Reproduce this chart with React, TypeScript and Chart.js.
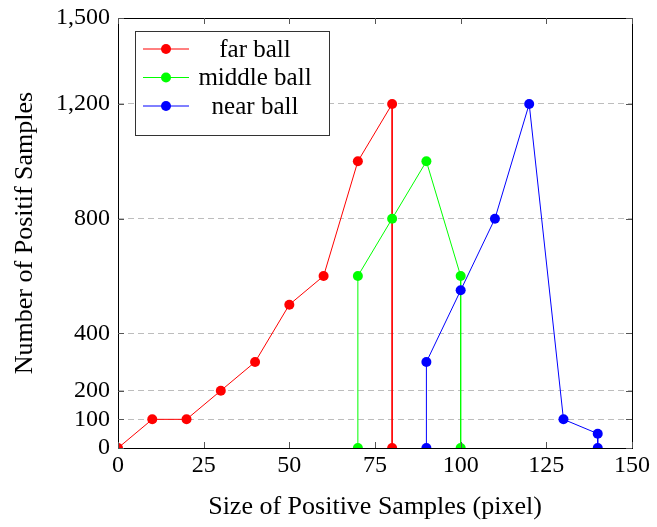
import React, { useEffect, useRef } from "react";
import { Chart, registerables } from "chart.js";

Chart.register(...registerables);

const farX = [0, 10, 20, 30, 40, 50, 60, 70, 80, 80];
const farY = [0, 100, 100, 200, 300, 500, 600, 1000, 1200, 0];
const middleX = [70, 70, 80, 90, 100, 100];
const middleY = [0, 600, 800, 1000, 600, 0];
const nearX = [90, 90, 100, 110, 120, 130, 140, 140];
const nearY = [0, 300, 550, 800, 1200, 100, 50, 0];
const yTicks = [0, 100, 200, 400, 800, 1200, 1500];
const xTicks = [0, 25, 50, 75, 100, 125, 150];
const seriesNames = ["far ball", "middle ball", "near ball"];
const seriesColors = ["#ff0000", "#00ff00", "#0000ff"];

const FONT = "'Liberation Serif', serif";

const pts = (xs: number[], ys: number[]) => xs.map((x, i) => ({ x, y: ys[i] }));

const framePlugin = {
  id: "frame",
  afterDraw(chart: any) {
    const { ctx, chartArea: a, scales } = chart;
    const xs = scales.x;
    const ys = scales.y;
    ctx.save();
    ctx.strokeStyle = "#000";
    ctx.lineWidth = 1;
    ctx.strokeRect(Math.round(a.left) + 0.5, Math.round(a.top) + 0.5, Math.round(a.right - a.left), Math.round(a.bottom - a.top));
    ctx.strokeStyle = "#555";
    ctx.beginPath();
    const tl = 6;
    xTicks.forEach((v) => {
      const px = Math.round(xs.getPixelForValue(v)) + 0.5;
      ctx.moveTo(px, a.bottom);
      ctx.lineTo(px, a.bottom - tl);
      ctx.moveTo(px, a.top);
      ctx.lineTo(px, a.top + tl);
    });
    yTicks.forEach((v) => {
      const py = Math.round(ys.getPixelForValue(v)) + 0.5;
      ctx.moveTo(a.left, py);
      ctx.lineTo(a.left + tl, py);
      ctx.moveTo(a.right, py);
      ctx.lineTo(a.right - tl, py);
    });
    ctx.stroke();

    // legend
    const bx = a.left + 17, by = a.top + 13, bw = 194, bh = 104;
    ctx.fillStyle = "#fff";
    ctx.fillRect(bx, by, bw, bh);
    ctx.strokeStyle = "#333";
    ctx.strokeRect(bx + 0.5, by + 0.5, bw, bh);
    ctx.font = "25px " + FONT;
    ctx.textAlign = "center";
    ctx.textBaseline = "middle";
    seriesNames.forEach((n, i) => {
      const cy = by + 18 + i * 28.5;
      ctx.strokeStyle = seriesColors[i];
      ctx.fillStyle = seriesColors[i];
      ctx.beginPath();
      ctx.moveTo(bx + 8, cy);
      ctx.lineTo(bx + 54, cy);
      ctx.stroke();
      ctx.beginPath();
      ctx.arc(bx + 31, cy, 5, 0, Math.PI * 2);
      ctx.fill();
      ctx.fillStyle = "#000";
      ctx.fillText(n, bx + 120, cy + 1);
    });
    ctx.restore();
  },
};

export default function App() {
  const ref = useRef<HTMLCanvasElement>(null);
  useEffect(() => {
    document.body.style.margin = "0";
    const mk = (i: number, xs: number[], ys: number[], order: number) => ({
      label: seriesNames[i],
      data: pts(xs, ys),
      borderColor: seriesColors[i],
      backgroundColor: seriesColors[i],
      borderWidth: 1,
      pointRadius: 5,
      pointBorderWidth: 0,
      showLine: true,
      tension: 0,
      order,
    });
    const chart = new Chart(ref.current!, {
      type: "line",
      data: {
        datasets: [mk(0, farX, farY, 2), mk(1, middleX, middleY, 1), mk(2, nearX, nearY, 0)],
      },
      options: {
        animation: false,
        responsive: false,
        devicePixelRatio: 1,
        layout: { padding: { top: 18, right: 25, left: 0, bottom: 0 } },
        plugins: { legend: { display: false }, tooltip: { enabled: false } },
        scales: {
          x: {
            type: "linear",
            min: 0,
            max: 150,
            afterBuildTicks: (s: any) => {
              s.ticks = xTicks.map((v) => ({ value: v }));
            },
            afterFit: (s: any) => {
              s.height = 79;
              s.paddingLeft = 0;
              s.paddingRight = 0;
            },
            grid: { display: false, drawTicks: false },
            border: { display: false },
            ticks: { color: "#000", font: { family: FONT, size: 24 }, padding: 3, maxRotation: 0 },
            title: {
              display: true,
              text: "Size of Positive Samples (pixel)",
              color: "#000",
              font: { family: FONT, size: 26 },
              padding: { top: 14 },
            },
          },
          y: {
            type: "linear",
            min: 0,
            max: 1500,
            afterBuildTicks: (s: any) => {
              s.ticks = yTicks.map((v) => ({ value: v }));
            },
            afterFit: (s: any) => {
              s.width = 118;
              s.paddingTop = 0;
              s.paddingBottom = 0;
            },
            grid: {
              drawTicks: false,
              color: (c: any) => (c.tick && (c.tick.value === 0 || c.tick.value === 1500) ? "rgba(0,0,0,0)" : "#bdbdbd"),
            },
            border: { display: false, dash: [6, 4] },
            ticks: {
              color: "#000",
              font: { family: FONT, size: 24 },
              padding: 8,
              callback: (v: any) => Number(v).toLocaleString("en-US"),
            },
            title: {
              display: true,
              text: "Number of Positif Samples",
              color: "#000",
              font: { family: FONT, size: 26 },
              padding: { top: 10 },
            },
          },
        },
      },
      plugins: [framePlugin],
    });
    return () => chart.destroy();
  }, []);
  return <canvas ref={ref} width={657} height={527} style={{ display: "block" }} />;
}
